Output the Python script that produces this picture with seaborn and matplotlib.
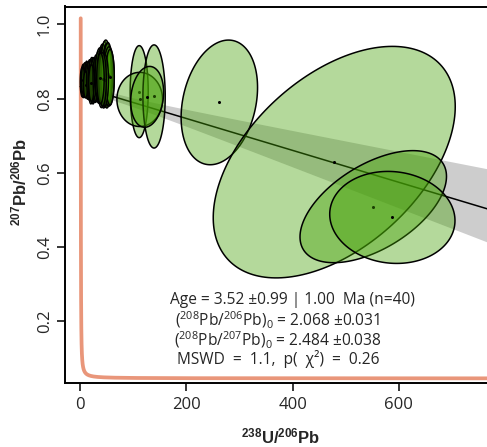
import numpy as np
import matplotlib
matplotlib.use('Agg')
import matplotlib.pyplot as plt
from matplotlib.patches import Polygon
import seaborn as sns

# decay constants (1/yr) and present day 238U/235U
LAMBDA_238 = 1.55125e-10
LAMBDA_235 = 9.8485e-10
U238_U235 = 137.818

# 238U/206Pb, 207Pb/206Pb, half-extent of each error ellipse and error correlation
u238_pb206 = [4, 6, 8, 9, 11, 12, 14, 15, 5, 10,
              18, 20, 22, 24, 26, 28, 21, 30,
              35, 37, 40, 42, 44, 46, 48, 50, 52, 54, 56, 46, 42, 38,
              111, 112, 139, 126, 262, 478.5, 552, 588]
err_u238 = [4, 5, 4, 5, 5, 4, 5, 6, 3, 4,
            6, 5, 6, 5, 6, 6, 5, 6,
            8, 9, 8, 9, 9, 8, 10, 9, 9, 10, 8, 7, 7, 7,
            17, 43, 21, 31, 72, 228, 138, 118]
pb207_pb206 = [0.845, 0.848, 0.842, 0.851, 0.846, 0.853, 0.844, 0.849, 0.850, 0.838,
               0.850, 0.846, 0.853, 0.848, 0.851, 0.845, 0.842, 0.855,
               0.858, 0.862, 0.856, 0.865, 0.860, 0.866, 0.868, 0.862, 0.866, 0.860, 0.858,
               0.850, 0.852, 0.855,
               0.819, 0.798, 0.806, 0.805, 0.790, 0.629, 0.509, 0.480]
err_pb207 = [0.040, 0.045, 0.038, 0.046, 0.042, 0.048, 0.045, 0.050, 0.035, 0.036,
             0.055, 0.060, 0.058, 0.062, 0.060, 0.055, 0.050, 0.063,
             0.070, 0.075, 0.080, 0.082, 0.085, 0.088, 0.090, 0.087, 0.085, 0.080, 0.075,
             0.070, 0.072, 0.068,
             0.124, 0.073, 0.139, 0.082, 0.168, 0.312, 0.151, 0.124]
rho = [0] * 32 + [0.0, 0.0, 0.0, 0.15, 0.24, 0.48, 0.54, -0.07]

# regression line (207Pb/206Pb intercept and slope) and its confidence band
intercept_76 = 0.8325
slope = -0.0004295
band_w0 = 0.010
band_pivot = 50
band_up = 1.50e-4
band_lo = 1.24e-4

# concordia age range (yr)
conc_tmin = 1.0e6
conc_tmax = 5.26e9

annot = [
    'Age = 3.52 ±0.99 | 1.00  Ma (n=40)',
    r'$(^{208}\mathrm{Pb}/^{206}\mathrm{Pb})_0$ = 2.068 ±0.031',
    r'$(^{208}\mathrm{Pb}/^{207}\mathrm{Pb})_0$ = 2.484 ±0.038',
    'MSWD  =  1.1,  p(  χ²)  =  0.26',
]

sns.set_style('ticks')
plt.rcParams['font.family'] = ['Open Sans', 'DejaVu Sans']
plt.rcParams['mathtext.fontset'] = 'custom'
plt.rcParams['mathtext.rm'] = 'Open Sans'
plt.rcParams['mathtext.it'] = 'Open Sans:italic'
plt.rcParams['mathtext.bf'] = 'Liberation Sans:bold'

fig = plt.figure(figsize=(4.87, 4.47), dpi=100)
ax = fig.add_axes([65 / 487, 64 / 447, 424 / 487, 376.5 / 447])
xlim = (-28.8, 770.1)
ylim = (0.0337, 1.0485)

# concordia
t = np.geomspace(conc_tmin, conc_tmax, 3000)
conc_x = 1 / (np.exp(LAMBDA_238 * t) - 1)
conc_y = (np.exp(LAMBDA_235 * t) - 1) / (np.exp(LAMBDA_238 * t) - 1) / U238_U235
sns.lineplot(x=conc_x, y=conc_y, sort=False, estimator=None, color='#E9967A',
             lw=2.7, ax=ax, zorder=1)

# band + regression line
xs = np.linspace(0, xlim[1], 400)
line = intercept_76 + slope * xs
hi = line + np.sqrt(band_w0 ** 2 + ((xs - band_pivot) * band_up) ** 2)
lo = line - np.sqrt(band_w0 ** 2 + ((xs - band_pivot) * band_lo) ** 2)
ax.fill_between(xs, lo, hi, color='#cdcdcd', lw=0, zorder=2)
sns.lineplot(x=xs, y=line, color='black', lw=1.1, ax=ax, zorder=3)

# error ellipses, drawn in order so later fills cover earlier outlines
th = np.linspace(0, 2 * np.pi, 200)
for i in range(len(u238_pb206)):
    cx, cy = u238_pb206[i], pb207_pb206[i]
    ex, ey, r = err_u238[i], err_pb207[i], rho[i]
    px = cx + ex * np.cos(th)
    py = cy + ey * (r * np.cos(th) + np.sqrt(1 - r ** 2) * np.sin(th))
    ax.add_patch(Polygon(np.column_stack([px, py]), closed=True,
                         facecolor=(68 / 255, 160 / 255, 5 / 255, 0.4),
                         edgecolor='black', lw=1.1, zorder=4))
    ax.plot([cx], [cy], 'o', color='black', ms=2.2, mew=0, zorder=4)

ax.set_xlim(*xlim)
ax.set_ylim(*ylim)
ax.set_xticks([0, 200, 400, 600])
ax.set_yticks([0.2, 0.4, 0.6, 0.8, 1.0])
ax.tick_params(labelsize=12, length=5.8, width=1.1, pad=4, color='black')
ax.tick_params(axis='y', labelrotation=90, pad=3)
for lab in ax.get_yticklabels():
    lab.set_va('center')
for sp in ax.spines.values():
    sp.set_linewidth(1.4)
    sp.set_color('black')

ax.set_xlabel(r'$\mathbf{{}^{238}U/{}^{206}Pb}$', fontsize=12)
ax.set_ylabel(r'$\mathbf{{}^{207}Pb/{}^{206}Pb}$', fontsize=12)
ax.xaxis.set_label_coords(0.509, -0.117)
ax.yaxis.set_label_coords(-0.082, 0.535)

for txt, xf, yf in zip(annot, [0.5366, 0.5024, 0.5024, 0.5024],
                       [0.2098, 0.1495, 0.0983, 0.0497]):
    ax.text(xf, yf, txt, transform=ax.transAxes, ha='center', va='baseline',
            fontsize=11.2, zorder=6)

fig.savefig('out.png', dpi=100)
